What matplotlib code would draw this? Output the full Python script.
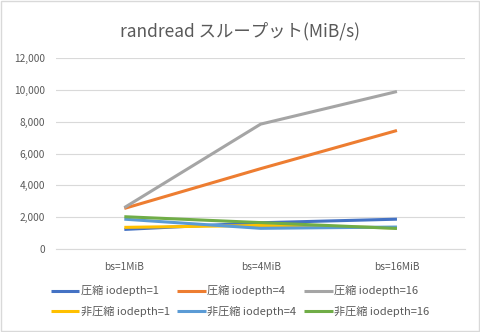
import numpy as np
import matplotlib
matplotlib.use('Agg')
import matplotlib.pyplot as plt

plt.rcParams['font.family'] = ['Noto Sans CJK JP', 'DejaVu Sans']

categories = ['bs=1MiB', 'bs=4MiB', 'bs=16MiB']
labels = ['圧縮 iodepth=1', '圧縮 iodepth=4', '圧縮 iodepth=16',
          '非圧縮 iodepth=1', '非圧縮 iodepth=4', '非圧縮 iodepth=16']
comp_1 = [1230, 1650, 1875]
comp_4 = [2550, 5050, 7450]
comp_16 = [2600, 7850, 9900]
nocomp_1 = [1360, 1480, 1330]
nocomp_4 = [1875, 1300, 1380]
nocomp_16 = [2030, 1660, 1290]
colors = ['#4472C4', '#ED7D31', '#A5A5A5', '#FFC000', '#5B9BD5', '#70AD47']

series = [comp_1, comp_4, comp_16, nocomp_1, nocomp_4, nocomp_16]

fig = plt.figure(figsize=(4.8, 3.32), dpi=100)
ax = fig.add_axes([0.117, 0.25, 0.852, 0.575])
x = np.arange(len(categories))
lines = []
for s, lab, c in zip(series, labels, colors):
    ln, = ax.plot(x, s, color=c, lw=2.2, label=lab, solid_capstyle='butt')
    lines.append(ln)

ax.set_xlim(-0.5, 2.5)
ax.set_ylim(0, 12000)
ax.set_yticks(np.arange(0, 12001, 2000))
ax.set_yticklabels([f'{v:,}' for v in range(0, 12001, 2000)])
ax.set_xticks(x)
ax.set_xticklabels(categories)
ax.grid(axis='y', color='#D9D9D9', lw=0.8)
ax.set_axisbelow(True)
for sp in ['top', 'right', 'left']:
    ax.spines[sp].set_visible(False)
ax.spines['bottom'].set_color('#D9D9D9')
ax.tick_params(axis='both', length=0, labelsize=7.3, colors='#595959', pad=8)
ax.tick_params(axis='x', pad=9)

fig.text(0.5, 0.905, 'randread スループット(MiB/s)', ha='center', va='center',
         fontsize=12.5, color='#595959')

# legend filled row by row like Excel
order = [0, 3, 1, 4, 2, 5]
fig.legend([lines[i] for i in order], [labels[i] for i in order],
           loc='center', bbox_to_anchor=(0.5, 0.093), ncol=3, frameon=False,
           fontsize=8, labelcolor='#595959', handlelength=2.6,
           handletextpad=0.1, columnspacing=0.7, labelspacing=0.85)

fig.patches.append(plt.Rectangle((0.002, 0.003), 0.995, 0.994, transform=fig.transFigure,
                                 fill=False, edgecolor='#D9D9D9', lw=1))

fig.savefig('out.png', dpi=100)
